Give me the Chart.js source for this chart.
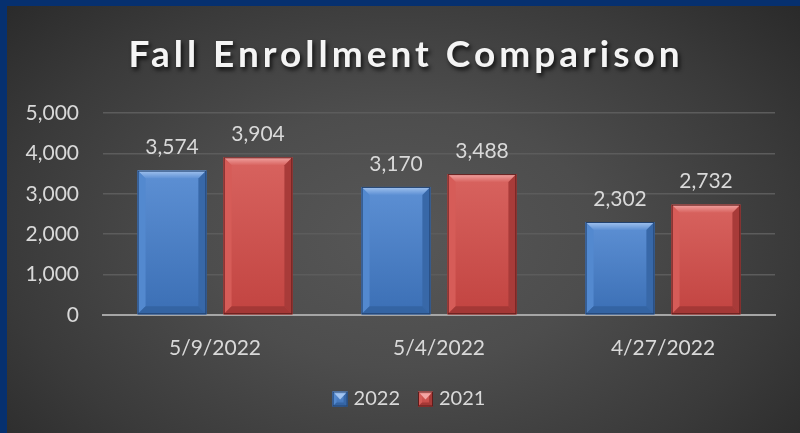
<!DOCTYPE html>
<html>
<head>
<meta charset="utf-8">
<script src="https://cdn.jsdelivr.net/npm/chart.js@4.4.1/dist/chart.umd.min.js"></script>
<style>
  html, body { margin: 0; padding: 0; background: #272727; overflow: hidden; }
  #frame {
    position: relative;
    width: 800px; height: 433px;
    background: radial-gradient(ellipse 70% 85% at 50% 55%, #575757 0%, #4d4d4d 35%, #3a3a3a 70%, #272727 100%);
    overflow: hidden;
  }
  #barTop { position: absolute; left: 0; top: 0; width: 800px; height: 6px; background: #06306f; }
  #barLeft { position: absolute; left: 0; top: 0; width: 7px; height: 433px; background: #06306f; }
  #myChart { position: absolute; left: 7px; top: 6px; display: block; }
</style>
</head>
<body>
<div id="frame">
  <canvas id="myChart" width="793" height="427"></canvas>
  <div id="barTop"></div>
  <div id="barLeft"></div>
</div>
<script>
const chartTitle = 'Fall Enrollment Comparison';
const categories = ['5/9/2022', '5/4/2022', '4/27/2022'];
const seriesNames = ['2022', '2021'];
const values2022 = [3574, 3170, 2302];
const values2021 = [3904, 3488, 2732];
const yMax = 5000;
const yStep = 1000;

const palettes = {
    blue: { face: '#4a7fc6', light: '#5d90d4', dark: '#3b6fb5', top: '#a3c4ef', side: '#5389cf', right: '#3868a8', bottom: '#3464a3', line: '#22426f' },
    red:  { face: '#cf4f4b', light: '#d8635f', dark: '#c24441', top: '#f2a5a3', side: '#d65c58', right: '#a83b39', bottom: '#a43836', line: '#5f1c1b' }
};

Chart.defaults.font.family = 'Lato, "Open Sans", sans-serif';
Chart.defaults.color = '#d9d9d9';

const ctx = document.getElementById('myChart').getContext('2d');

function poly(c, pts, fill) {
    c.beginPath();
    c.moveTo(pts[0][0], pts[0][1]);
    for (let i = 1; i < pts.length; i++) c.lineTo(pts[i][0], pts[i][1]);
    c.closePath();
    c.fillStyle = fill;
    c.fill();
}

function bevelBox(c, l, t, r, b, p, bev) {
    const g = c.createLinearGradient(0, t, 0, b);
    g.addColorStop(0, p.light);
    g.addColorStop(1, p.dark);
    c.fillStyle = g;
    c.fillRect(l, t, r - l, b - t);
    const tg = c.createLinearGradient(0, t, 0, t + bev);
    tg.addColorStop(0, p.top);
    tg.addColorStop(1, p.light);
    poly(c, [[l, t], [r, t], [r - bev, t + bev], [l + bev, t + bev]], tg);
    poly(c, [[l, t], [l + bev, t + bev], [l + bev, b - bev], [l, b]], p.side);
    poly(c, [[r, t], [r - bev, t + bev], [r - bev, b - bev], [r, b]], p.right);
    poly(c, [[l, b], [l + bev, b - bev], [r - bev, b - bev], [r, b]], p.bottom);
    c.strokeStyle = p.line;
    c.lineWidth = 1;
    c.strokeRect(l + 0.5, t + 0.5, r - l - 1, b - t - 1);
}

const bevelPlugin = {
    id: 'bevel',
    afterLayout(chart) {
        // nudge the legend a little right, like the original
        chart.legend.left += 9;
        chart.legend.right += 9;
    },
    afterDatasetsDraw(chart) {
        const c = chart.ctx;
        c.save();
        chart.data.datasets.forEach((ds, i) => {
            const meta = chart.getDatasetMeta(i);
            const p = palettes[ds.palette];
            meta.data.forEach((bar, j) => {
                const l = bar.x - bar.width / 2;
                const r = bar.x + bar.width / 2;
                bevelBox(c, l, bar.y, r, bar.base, p, 8);
                c.font = '21px Lato, "Open Sans", sans-serif';
                c.fillStyle = '#d9d9d9';
                c.textAlign = 'center';
                c.textBaseline = 'middle';
                c.fillText(ds.data[j].toLocaleString('en-US'), bar.x, bar.y - 23);
            });
        });
        c.restore();
    },
    afterDraw(chart) {
        const c = chart.ctx;
        c.save();
        // title with shadow
        c.font = 'bold 37px Lato, "Open Sans", sans-serif';
        c.letterSpacing = '4px';
        c.textAlign = 'center';
        c.textBaseline = 'alphabetic';
        c.shadowColor = 'rgba(0,0,0,0.75)';
        c.shadowBlur = 4;
        c.shadowOffsetX = 2;
        c.shadowOffsetY = 3;
        c.fillStyle = '#f4f4f4';
        c.fillText(chartTitle, 399, 61);
        c.restore();
        // bevel on legend boxes
        const lg = chart.legend;
        if (lg && lg.legendHitBoxes) {
            c.save();
            lg.legendHitBoxes.forEach((hb, i) => {
                const p = palettes[chart.data.datasets[i].palette];
                const bx = hb.left, by = hb.top + (hb.height - 15) / 2;
                bevelBox(c, bx, by, bx + 15, by + 15, p, 4);
                poly(c, [[bx + 2, by + 2], [bx + 13, by + 2], [bx + 7.5, by + 8]], p.top);
            });
            c.restore();
        }
    }
};

new Chart(ctx, {
    type: 'bar',
    data: {
        labels: categories,
        datasets: [
            { label: seriesNames[0], data: values2022, palette: 'blue', backgroundColor: palettes.blue.face, borderColor: palettes.blue.line, borderWidth: 0 },
            { label: seriesNames[1], data: values2021, palette: 'red', backgroundColor: palettes.red.face, borderColor: palettes.red.line, borderWidth: 0 }
        ]
    },
    options: {
        responsive: false,
        animation: false,
        categoryPercentage: 0.768,
        barPercentage: 0.8,
        layout: { padding: { top: 107, right: 25, bottom: 14, left: 18 } },
        plugins: {
            title: { display: false },
            tooltip: { enabled: false },
            legend: {
                position: 'bottom',
                labels: { boxWidth: 11, boxHeight: 15, padding: 18, font: { size: 20 }, color: '#d9d9d9' }
            }
        },
        scales: {
            x: {
                grid: { display: false, drawTicks: false },
                border: { display: true, color: '#a6a6a6', width: 2 },
                ticks: { font: { size: 21 }, color: '#d9d9d9', padding: 21, maxRotation: 0 },
                afterFit(s) { s.height = 56; }
            },
            y: {
                min: 0,
                max: yMax,
                grid: { color: '#5c5c5c', lineWidth: 1.5, drawTicks: false },
                border: { display: false },
                ticks: {
                    stepSize: yStep,
                    font: { size: 21 },
                    color: '#d9d9d9',
                    padding: 24,
                    callback: v => v.toLocaleString('en-US')
                },
                afterFit(s) { s.width = 78; }
            }
        }
    },
    plugins: [bevelPlugin]
});
</script>
</body>
</html>
